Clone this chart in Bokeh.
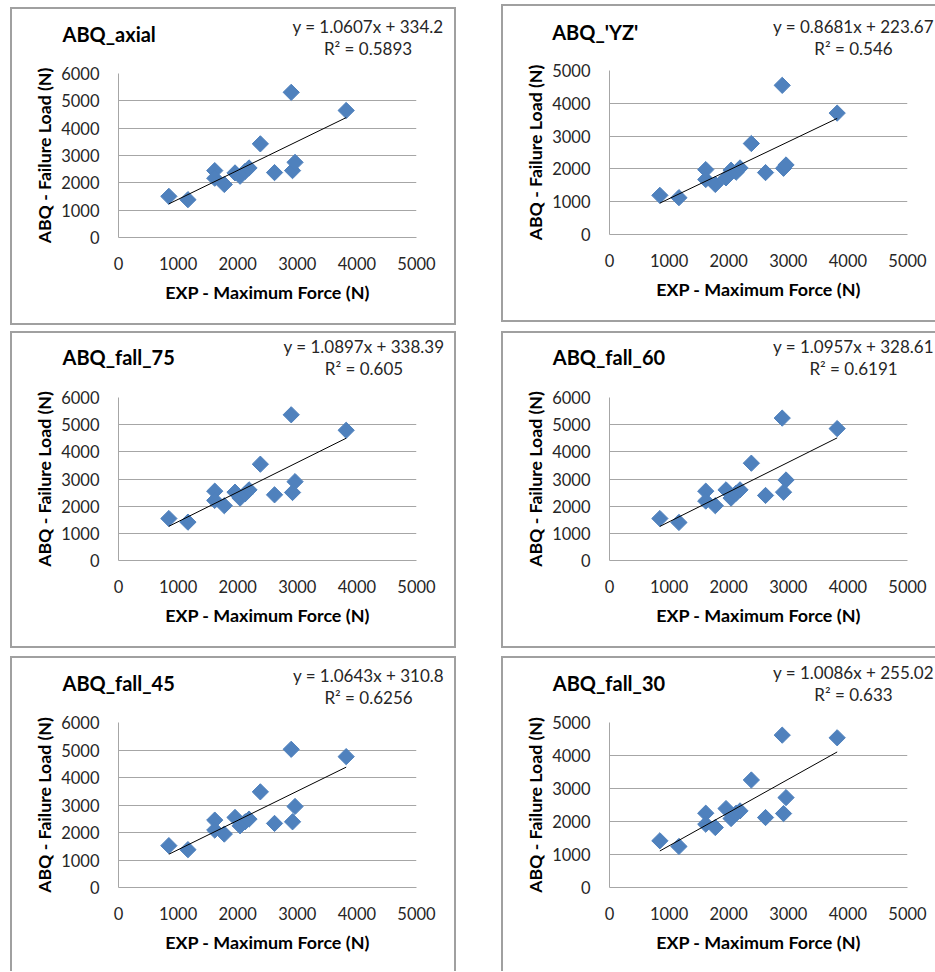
import numpy as np
from bokeh.plotting import figure
from bokeh.layouts import column, row
from bokeh.models import Range1d, FixedTicker, Label
from bokeh.embed import file_html
from bokeh.resources import INLINE

# ---------------- data ----------------
exp_force = [845, 1165, 1615, 1615, 1775, 1955, 2040, 2125, 2190, 2380, 2618, 2898, 2920, 2962, 3820]

abq_axial = [1505, 1384, 2447, 2169, 1940, 2363, 2242, 2423, 2544, 3426, 2375, 5311, 2447, 2749, 4647]
abq_yz = [1193, 1123, 1979, 1677, 1526, 1727, 1960, 1900, 2029, 2774, 1888, 4547, 2019, 2120, 3701]
abq_fall_75 = [1545, 1412, 2552, 2212, 2018, 2515, 2297, 2455, 2600, 3545, 2418, 5364, 2503, 2903, 4794]
abq_fall_60 = [1545, 1400, 2552, 2188, 2018, 2600, 2297, 2479, 2600, 3582, 2394, 5242, 2515, 2964, 4855]
abq_fall_45 = [1522, 1376, 2451, 2088, 1943, 2547, 2245, 2390, 2488, 3478, 2330, 5025, 2390, 2946, 4759]
abq_fall_30 = [1415, 1244, 2251, 1918, 1818, 2392, 2090, 2251, 2321, 3258, 2120, 4617, 2241, 2724, 4537]

titles = ["ABQ_axial", "ABQ_'YZ'", "ABQ_fall_75", "ABQ_fall_60", "ABQ_fall_45", "ABQ_fall_30"]
slopes = [1.0607, 0.8681, 1.0897, 1.0957, 1.0643, 1.0086]
intercepts = [334.2, 223.67, 338.39, 328.61, 310.8, 255.02]
r_squared = ["0.5893", "0.546", "0.605", "0.6191", "0.6256", "0.633"]
y_max = [6000, 5000, 6000, 6000, 6000, 5000]
x_ticks = [0, 1000, 2000, 3000, 4000, 5000]
y_ticks_6000 = [0, 1000, 2000, 3000, 4000, 5000, 6000]
y_ticks_5000 = [0, 1000, 2000, 3000, 4000, 5000]
x_label = "EXP - Maximum Force (N)"
y_label = "ABQ - Failure Load (N)"

series = [abq_axial, abq_yz, abq_fall_75, abq_fall_60, abq_fall_45, abq_fall_30]

# ---------------- styling / geometry ----------------
FONT = "Lato"
GRID = "#a6a6a6"
BORDER = "#a0a0a0"
BLUE = "#4F81BD"

# (width, height, margin, frame_left, frame_top, frame_w, frame_h,
#  title(x,y), eq_center_x, eq_y1, eq_y2, border sides)   -- canvas pixels
geom = [
    (446, 318, (7, 0, 0, 10), 108, 66, 298, 165, (52, 26.3), 357.5, 19, 41.3, "ltrb"),
    (434, 318, (4, 0, 0, 45), 108, 65, 298, 165, (50.7, 27.7), 352, 22, 44.3, "ltb"),
    (446, 317, (6, 0, 0, 10), 108, 65, 298, 164, (52, 25), 353.5, 15, 37.3, "ltrb"),
    (434, 317, (6, 0, 0, 45), 108, 65, 298, 164, (51.3, 25), 352, 15, 37.3, "ltb"),
    (446, 315, (8, 0, 0, 10), 108, 66, 298, 165, (52, 26.7), 358, 19, 41.3, "ltr"),
    (434, 315, (8, 0, 0, 45), 108, 66, 298, 165, (51.3, 26.7), 352, 15.7, 38, "lt"),
]


def shadow(sides):
    m = {"l": "2px 0", "t": "0 2px", "r": "-2px 0", "b": "0 -2px"}
    return ", ".join(f"inset {m[s]} 0 0 {BORDER}" for s in sides)


def make_panel(i):
    w, h, margin, fl, ft, fw, fh, tpos, ex, ey1, ey2, sides = geom[i]
    ys = series[i]
    p = figure(width=w, height=h, output_backend="svg", toolbar_location=None,
               x_range=Range1d(0, 5000), y_range=Range1d(0, y_max[i]),
               min_border_left=fl, min_border_right=w - fl - fw,
               min_border_top=ft, min_border_bottom=h - ft - fh,
               margin=margin, styles={"box-shadow": shadow(sides)})
    p.border_fill_color = None
    p.background_fill_color = None
    p.outline_line_color = None

    p.xaxis.ticker = FixedTicker(ticks=x_ticks)
    p.yaxis.ticker = FixedTicker(ticks=y_ticks_6000 if y_max[i] == 6000 else y_ticks_5000)
    for ax in (p.xaxis[0], p.yaxis[0]):
        ax.major_tick_out = 0
        ax.major_tick_in = 0
        ax.minor_tick_out = 0
        ax.minor_tick_in = 0
        ax.axis_line_color = GRID
        ax.axis_line_width = 1
        ax.major_label_text_font = FONT
        ax.major_label_text_font_size = "16.5px"
        ax.major_label_text_color = "#262626"
        ax.axis_label_text_font = FONT
        ax.axis_label_text_font_style = "bold"
        ax.axis_label_text_color = "#000000"
    p.xaxis.axis_label = x_label
    p.yaxis.axis_label = y_label
    p.xaxis.axis_label_text_font_size = "17.9px"
    p.yaxis.axis_label_text_font_size = "17.7px"
    p.xaxis.major_label_standoff = 19
    p.yaxis.major_label_standoff = 19
    p.xaxis.axis_label_standoff = 8
    p.yaxis.axis_label_standoff = 3

    p.xgrid.grid_line_color = None
    p.ygrid.grid_line_color = GRID
    p.ygrid.grid_line_width = 1

    p.scatter(exp_force, ys, marker="square", angle=np.pi / 4, size=11.5,
              fill_color=BLUE, line_color=BLUE, line_width=1)

    x0, x1 = min(exp_force), max(exp_force)
    p.line([x0, x1], [slopes[i] * x0 + intercepts[i], slopes[i] * x1 + intercepts[i]],
           line_color="#000000", line_width=1)

    # chart title and trendline equation (canvas pixel units, placed in the top side panel)
    p.add_layout(Label(x=tpos[0], y=tpos[1], x_units="canvas", y_units="canvas",
                       text=titles[i], text_font=FONT, text_font_style="bold",
                       text_font_size="20px", text_baseline="middle", text_align="left",
                       text_color="#000000"), "above")
    p.add_layout(Label(x=ex, y=ey1, x_units="canvas", y_units="canvas",
                       text=f"y = {slopes[i]}x + {intercepts[i]}", text_font=FONT,
                       text_font_size="17px", text_baseline="middle", text_align="center",
                       text_color="#262626"), "above")
    p.add_layout(Label(x=ex, y=ey2, x_units="canvas", y_units="canvas",
                       text=f"R\u00b2 = {r_squared[i]}", text_font=FONT,
                       text_font_size="17px", text_baseline="middle", text_align="center",
                       text_color="#262626"), "above")
    return p


panels = [make_panel(i) for i in range(6)]
layout = column(row(panels[0], panels[1]), row(panels[2], panels[3]), row(panels[4], panels[5]))

open("out.html", "w").write(file_html(layout, INLINE))
